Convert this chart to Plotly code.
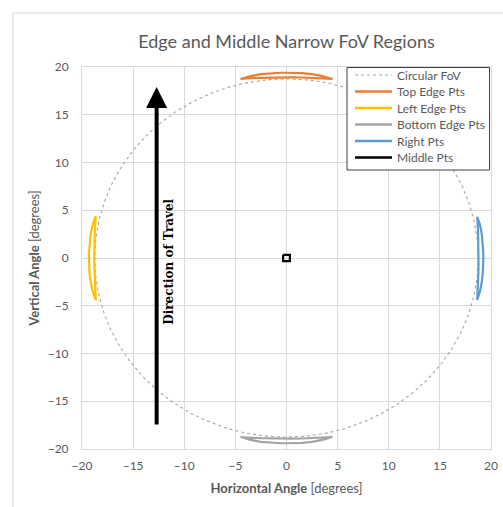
import numpy as np
import plotly.graph_objects as go

# ---- data ----
fov_radius = 18.75

top_x = [-4.5, -3.5, -2.5, -1.5, -0.5, 0, 0.5, 1.5, 2.5, 3.5, 4.5,
         3.5, 2.5, 1.5, 0.5, 0, -0.5, -1.5, -2.5, -3.5, -4.5]
top_y = [18.75, 19.05, 19.25, 19.35, 19.4, 19.4, 19.4, 19.35, 19.25, 19.05, 18.75,
         18.82, 18.87, 18.9, 18.92, 18.92, 18.92, 18.9, 18.87, 18.82, 18.75]

bottom_x = [-4.5, -3.5, -2.5, -1.5, -0.5, 0, 0.5, 1.5, 2.5, 3.5, 4.5,
            3.5, 2.5, 1.5, 0.5, 0, -0.5, -1.5, -2.5, -3.5, -4.5]
bottom_y = [-18.75, -19.05, -19.25, -19.35, -19.4, -19.4, -19.4, -19.35, -19.25, -19.05, -18.75,
            -18.82, -18.87, -18.9, -18.92, -18.92, -18.92, -18.9, -18.87, -18.82, -18.75]

left_y = [4.4, 3.5, 2.5, 1.5, 0.5, 0, -0.5, -1.5, -2.5, -3.5, -4.4,
          -3.5, -2.5, -1.5, -0.5, 0, 0.5, 1.5, 2.5, 3.5, 4.4]
left_x = [-18.65, -18.95, -19.15, -19.27, -19.32, -19.32, -19.32, -19.27, -19.15, -18.95, -18.65,
          -18.7, -18.75, -18.78, -18.8, -18.8, -18.8, -18.78, -18.75, -18.7, -18.65]

right_y = [4.3, 3.5, 2.5, 1.5, 0.5, 0, -0.5, -1.5, -2.5, -3.5, -4.4,
           -3.5, -2.5, -1.5, -0.5, 0, 0.5, 1.5, 2.5, 3.5, 4.3]
right_x = [18.65, 18.92, 19.1, 19.2, 19.25, 19.25, 19.25, 19.2, 19.1, 18.92, 18.65,
           18.7, 18.74, 18.77, 18.78, 18.78, 18.78, 18.77, 18.74, 18.7, 18.65]

middle_x = [-0.33, 0.33, 0.33, -0.33, -0.33]
middle_y = [0.33, 0.33, -0.33, -0.33, 0.33]

arrow_x = -12.7
arrow_tail_y = -17.6
arrow_head_y = 17.9
arrow_label = "Direction of Travel"
label_x = -11.5
label_y = -0.4

x_ticks = [-20, -15, -10, -5, 0, 5, 10, 15, 20]
y_ticks = [-20, -15, -10, -5, 0, 5, 10, 15, 20]

series_names = ["Circular FoV", "Top Edge Pts", "Left Edge Pts",
                "Bottom Edge Pts", "Right Pts", "Middle Pts"]
series_colors = ["#a5a5a5", "#ed7d31", "#ffc000", "#a5a5a5", "#5b9bd5", "#000000"]
series_dash = ["dot", "solid", "solid", "solid", "solid", "solid"]

# ---- figure ----
theta = np.linspace(0, 2 * np.pi, 361)
circ_x = fov_radius * np.cos(theta)
circ_y = fov_radius * np.sin(theta)

series_xy = [(circ_x, circ_y), (top_x, top_y), (left_x, left_y),
             (bottom_x, bottom_y), (right_x, right_y), (middle_x, middle_y)]

fig = go.Figure()
for (sx, sy), name, col, dash in zip(series_xy, series_names, series_colors, series_dash):
    w = 1.1 if dash == "dot" else 2.2
    fig.add_trace(go.Scatter(x=sx, y=sy, mode="lines", name=name, showlegend=False,
                             line=dict(color=col, width=w, dash=dash)))

fig.add_annotation(x=arrow_x, y=arrow_head_y, ax=arrow_x, ay=arrow_tail_y,
                   xref="x", yref="y", axref="x", ayref="y",
                   showarrow=True, arrowhead=2, arrowsize=1.05, arrowwidth=4,
                   arrowcolor="#000000", text="")
fig.add_annotation(x=label_x, y=label_y, xref="x", yref="y", showarrow=False,
                   text="<b>" + arrow_label + "</b>", textangle=-90,
                   font=dict(family="DejaVu Serif", size=12, color="#000000"))

# chart border
fig.add_shape(type="rect", xref="paper", yref="paper",
              x0=-0.1687, x1=1.3, y0=-0.5, y1=1.1414,
              line=dict(color="#d9d9d9", width=1), layer="below")

# hand-drawn legend (plot area: px 82..491 x, 67..449 y)
def px2x(px):
    return (px - 82) / 409.0

def py2y(py):
    return (449 - py) / 382.0

fig.add_shape(type="rect", xref="paper", yref="paper",
              x0=px2x(347), x1=px2x(489.5), y0=py2y(170), y1=py2y(67.5),
              line=dict(color="#404040", width=1), fillcolor="white", layer="above")
item_y0 = 75.0
item_step = 16.5
for i, (name, col, dash) in enumerate(zip(series_names, series_colors, series_dash)):
    yy = py2y(item_y0 + i * item_step)
    w = 1.1 if dash == "dot" else 2.5
    fig.add_shape(type="line", xref="paper", yref="paper",
                  x0=px2x(355), x1=px2x(392), y0=yy, y1=yy,
                  line=dict(color=col, width=w, dash=dash), layer="above")
    fig.add_annotation(x=px2x(395), y=yy, xref="paper", yref="paper",
                       xanchor="left", yanchor="middle", showarrow=False,
                       text=name, font=dict(family="Lato", size=12, color="#595959"))

axis_common = dict(
    showgrid=True, gridcolor="#d9d9d9", gridwidth=1,
    zeroline=False, showline=True, mirror=True, linecolor="#d9d9d9",
    tickfont=dict(family="Lato", size=12, color="#595959"),
    ticks="", fixedrange=True, automargin=False,
)

fig.update_layout(
    width=503, height=507,
    margin=dict(l=82, r=12, t=67, b=58),
    paper_bgcolor="white", plot_bgcolor="white",
    title=dict(text="Edge and Middle Narrow FoV Regions", x=0.5, xanchor="center",
               xref="paper", y=1 - 42 / 507, yanchor="middle",
               font=dict(family="Lato", size=18, color="#595959")),
    xaxis=dict(range=[-20, 20], tickvals=x_ticks, ticklabelstandoff=6,
               title=dict(text="<b>Horizontal Angle</b> [degrees]", standoff=11,
                          font=dict(family="Lato", size=13, color="#595959")),
               **axis_common),
    yaxis=dict(range=[-20, 20], tickvals=y_ticks, ticklabelstandoff=10,
               title=dict(text="<b>Vertical Angle</b> [degrees]", standoff=5,
                          font=dict(family="Lato", size=13, color="#595959")),
               **axis_common),
    showlegend=False,
    hovermode=False,
)

fig.write_html("out.html")
